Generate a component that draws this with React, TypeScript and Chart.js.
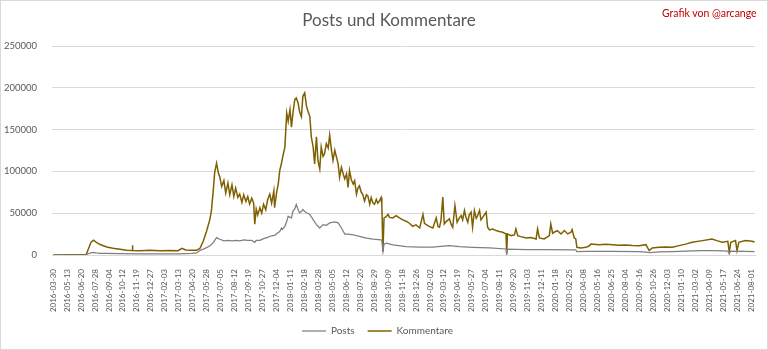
import React, { useEffect, useRef } from "react";
import { Chart, registerables } from "chart.js";

Chart.register(...registerables);

const tickLabels = [
  "2016-03-30", "2016-05-13", "2016-06-20", "2016-07-28", "2016-09-04", "2016-10-12", "2016-11-19", "2016-12-27",
  "2017-02-03", "2017-03-13", "2017-04-20", "2017-05-28", "2017-07-05", "2017-08-12", "2017-09-19", "2017-10-27", "2017-12-04",
  "2018-01-11", "2018-02-18", "2018-03-28", "2018-05-05", "2018-06-12", "2018-07-20", "2018-08-29", "2018-10-09", "2018-11-18", "2018-12-26",
  "2019-02-02", "2019-03-12", "2019-04-19", "2019-05-27", "2019-07-04", "2019-08-11", "2019-09-20", "2019-11-03", "2019-12-11",
  "2020-01-18", "2020-02-25", "2020-04-08", "2020-05-16", "2020-06-25", "2020-08-04", "2020-09-16", "2020-10-26", "2020-12-03",
  "2021-01-10", "2021-03-02", "2021-04-09", "2021-05-17", "2021-06-24", "2021-08-01",
];
const TICK_STEP = 38;

// Kommentare: day index, value
const kommDays = [
  0, 90, 95, 103, 110, 117, 128, 146, 163, 182, 200, 215, 216, 217, 236, 264, 291, 318, 340, 351, 361, 378, 391,
  400, 409, 418, 427, 431, 436, 440, 445, 450, 454, 459, 465, 470, 476, 481, 487, 492, 497, 503, 508, 514, 519, 525,
  530, 535, 541, 546, 549, 553, 557, 563, 568, 573, 579, 584, 590, 595, 601, 603, 609, 613, 617, 622, 625, 631, 636,
  640, 645, 649, 653, 658, 662, 667, 671, 676, 680, 685, 690, 694, 699, 703, 708, 712, 717, 721, 726, 730, 735, 739,
  744, 749, 753, 758, 762, 767, 771, 776, 780, 785, 789, 794, 799, 803, 807, 812, 817, 821, 826, 830, 834, 839, 843,
  848, 853, 857, 862, 866, 871, 875, 880, 884, 889, 893, 895, 898, 901, 907, 912, 916, 925, 934, 943, 952, 961, 970,
  979, 988, 998, 1007, 1011, 1016, 1025, 1034, 1043, 1048, 1052, 1056, 1061, 1065, 1070, 1079, 1084, 1088, 1094,
  1100, 1106, 1111, 1115, 1120, 1124, 1129, 1133, 1138, 1142, 1147, 1152, 1156, 1161, 1165, 1170, 1174, 1179, 1183,
  1188, 1197, 1206, 1215, 1224, 1233, 1235, 1237, 1247, 1256, 1260, 1265, 1274, 1288, 1301, 1315, 1319, 1324, 1337,
  1351, 1355, 1360, 1364, 1373, 1383, 1392, 1401, 1410, 1413, 1419, 1423, 1426, 1437, 1451, 1460, 1464, 1487, 1505,
  1523, 1540, 1559, 1577, 1595, 1614, 1623, 1631, 1650, 1668, 1686, 1704, 1722, 1740, 1768, 1794, 1807, 1822, 1837,
  1841, 1845, 1858, 1862, 1867, 1885, 1903, 1910,
];
const kommValues = [
  0, 500, 6000, 15000, 17700, 15500, 12500, 9600, 8000, 6800, 5600, 5400, 11600, 5500, 5200, 5600, 5000, 5400, 5200, 8000, 6000, 5600, 5800,
  8000, 16800, 28800, 42900, 52900, 77000, 99000, 109800, 98000, 93000, 82000, 89000, 74000, 86000, 72000, 84000, 70000, 80000, 69000, 73000, 63000, 72000, 64000,
  70000, 61000, 68000, 62000, 36900, 55000, 48000, 56500, 50000, 60600, 54000, 66000, 72700, 62000, 76700, 56500, 76000, 84800, 101000, 110000, 117000, 129000, 169600,
  160000, 173700, 153000, 169600, 185800, 187800, 181800, 171700, 165600, 189800, 193900, 177700, 172000, 165600, 141400, 129200, 109000, 141400, 113100, 103000, 129200, 118000, 121200,
  133300, 128000, 143400, 125200, 113100, 125200, 118000, 109000, 92900, 105000, 98000, 90900, 97000, 80800, 101000, 90000, 84800, 88900, 72700, 80000, 82800, 75000, 72700,
  64600, 72000, 70700, 60600, 68700, 62000, 60600, 66600, 62000, 65000, 68700, 60000, 4000, 44400, 46000, 48500, 45000, 44400, 47000, 44400, 42000, 40400, 38000,
  34300, 36000, 32300, 48500, 38000, 36300, 34000, 32300, 44400, 34000, 33200, 41200, 69200, 37200, 40000, 43200, 36300, 33200, 59200,
  39200, 44400, 47200, 42000, 53200, 45000, 39200, 48000, 51200, 33200, 53200, 44000, 47200, 53200, 42000, 45200, 48000, 51200, 33200,
  30000, 31000, 29200, 28000, 27200, 25200, 1200, 25200, 23200, 24000, 31200, 23200, 22000, 20400, 21000, 19200, 31200, 20400, 19200,
  23200, 37200, 26000, 27200, 29200, 25200, 29200, 25200, 27200, 30400, 20400, 19200, 9200, 8400, 9200, 11000, 13200, 12400, 12800,
  12400, 11800, 12000, 11500, 11200, 12400, 5200, 8400, 9200, 9600, 9200, 11200, 13000, 15200, 17200, 19200, 17200, 15200, 16400,
  3200, 15200, 17200, 5200, 15200, 17200, 16400, 15500,
];

// Posts: day index, value
const postDays = [
  0, 90, 95, 103, 110, 117, 128, 146, 182, 236, 291, 340, 378, 391, 400, 409, 418, 427, 436, 445, 454, 465, 476, 487,
  497, 508, 519, 530, 541, 549, 553, 563, 573, 584, 595, 603, 613, 617, 622, 625, 631, 636, 640, 645, 649, 653, 658,
  662, 667, 671, 676, 680, 685, 690, 699, 708, 717, 726, 735, 744, 753, 767, 776, 785, 794, 803, 817, 834, 853, 871,
  893, 895, 898, 901, 907, 925, 961, 998, 1034, 1070, 1079, 1106, 1142, 1188, 1233, 1235, 1237, 1288, 1351, 1413,
  1423, 1426, 1451, 1523, 1595, 1614, 1623, 1650, 1686, 1740, 1768, 1794, 1822, 1837, 1841, 1845, 1885, 1910,
];
const postValues = [
  0, 0, 1500, 2500, 3000, 2500, 2000, 1800, 1500, 1300, 1300, 1400, 1800, 2500, 5600, 7000, 8800, 11000, 14800, 20800, 18800, 17000, 17500, 17000,
  17500, 17000, 18000, 17500, 17500, 15000, 17500, 17500, 19500, 21000, 23000, 23500, 27000, 28000, 32300, 31000, 34300, 40000, 46400, 45000, 44400, 52500, 55000,
  60600, 54500, 50500, 52000, 54500, 52000, 50500, 48500, 42400, 36300, 32300, 36300, 35500, 38400, 39600, 38400, 32300, 25000, 25000, 24200, 22200, 20200, 19000,
  18200, 17500, 4000, 13000, 14100, 12100, 10100, 9300, 9300, 11000, 11200, 10100, 9200, 8400, 7200, 1000, 7000, 6400, 6400, 6000,
  6000, 4000, 4400, 4400, 4000, 3500, 2800, 3600, 4000, 4800, 5200, 5200, 5000, 4600, 2000, 4500, 4200, 4000,
];

const FONT = "Lato, 'Liberation Sans', sans-serif";
const TEXT = "#595959";

export default function App() {
  const ref = useRef<HTMLCanvasElement>(null);

  useEffect(() => {
    if (!ref.current) return;
    const chart = new Chart(ref.current, {
      type: "line",
      data: {
        datasets: [
          {
            label: "Posts",
            data: postDays.map((d, i) => ({ x: d, y: postValues[i] })),
            borderColor: "#7f7f7f",
            backgroundColor: "#7f7f7f",
            borderWidth: 1.25,
            pointRadius: 0,
            tension: 0,
          },
          {
            label: "Kommentare",
            data: kommDays.map((d, i) => ({ x: d, y: kommValues[i] })),
            borderColor: "#7f6000",
            backgroundColor: "#7f6000",
            borderWidth: 1.5,
            pointRadius: 0,
            tension: 0,
          },
        ],
      },
      options: {
        responsive: false,
        animation: false,
        devicePixelRatio: 1,
        layout: { padding: { left: 0, right: 13, top: 46, bottom: 4 } },
        plugins: {
          title: { display: false },
          legend: {
            position: "bottom",
            labels: {
              usePointStyle: true,
              pointStyle: "line",
              pointStyleWidth: 24,
              color: TEXT,
              font: { family: FONT, size: 10 },
              padding: 13,
            },
          },
          tooltip: { enabled: false },
        },
        scales: {
          x: {
            type: "linear",
            min: -3,
            max: 1911,
            grid: { display: false },
            border: { display: true, color: "#d9d9d9" },
            afterBuildTicks: (s: any) => {
              s.ticks = tickLabels.map((_, i) => ({ value: i * TICK_STEP }));
            },
            afterFit: (s: any) => {
              s.height = 58;
            },
            ticks: {
              autoSkip: false,
              maxRotation: 90,
              minRotation: 90,
              padding: 6,
              color: TEXT,
              font: { family: FONT, size: 8 },
              callback: (v: any) => tickLabels[Math.round(Number(v) / TICK_STEP)] ?? "",
            },
          },
          y: {
            min: 0,
            max: 250000,
            grid: { color: "#d9d9d9", drawTicks: false },
            border: { display: false },
            afterFit: (s: any) => {
              s.width = 52;
            },
            ticks: {
              stepSize: 50000,
              padding: 15,
              color: TEXT,
              font: { family: FONT, size: 9.5 },
              callback: (v: any) => String(v),
            },
          },
        },
      },
    });
    return () => chart.destroy();
  }, []);

  return (
    <div style={{ position: "absolute", left: 0, top: 0, width: 768, height: 350, background: "#fff" }}>
      <canvas ref={ref} width={768} height={350} style={{ display: "block", width: 768, height: 350 }} />
      <div
        style={{
          position: "absolute",
          left: 0,
          width: 778,
          top: 9,
          textAlign: "center",
          fontFamily: FONT,
          fontSize: 17,
          color: TEXT,
          whiteSpace: "nowrap",
        }}
      >
        Posts und Kommentare
      </div>
      <div
        style={{
          position: "absolute",
          left: 662,
          top: 7,
          fontFamily: FONT,
          fontSize: 10.5,
          color: "#c00000",
          whiteSpace: "nowrap",
        }}
      >
        Grafik von @arcange
      </div>
      <div
        style={{
          position: "absolute",
          inset: 0,
          border: "1px solid #d9d9d9",
          boxSizing: "border-box",
          pointerEvents: "none",
        }}
      />
    </div>
  );
}
